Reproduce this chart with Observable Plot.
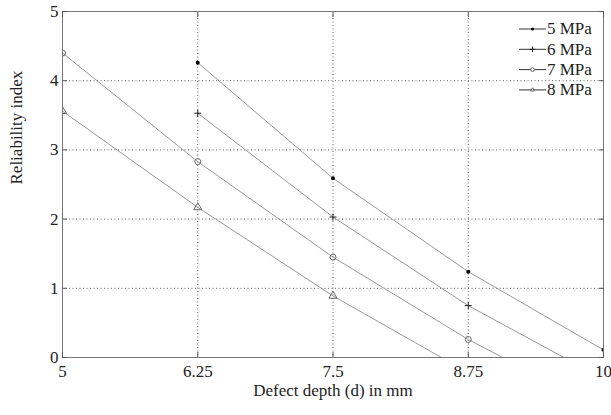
<!DOCTYPE html>
<html><head><meta charset="utf-8">
<script src="https://cdn.jsdelivr.net/npm/d3@7"></script>
<script src="https://cdn.jsdelivr.net/npm/@observablehq/plot@0.6"></script>
<style>
body{margin:0;background:#fff}
#c{position:relative;width:611px;height:415px;font-family:"Liberation Serif","Times New Roman","DejaVu Serif",serif}
#c svg text{font-family:"Liberation Serif","Times New Roman","DejaVu Serif",serif}
#legend{position:absolute;left:514px;top:18px}
</style>
</head><body><div id="c"></div>
<script>
// Defect depth (mm)
const depth = [5, 6.25, 7.5, 8.75, 10];
// Reliability index per internal pressure (null = not computed)
const mpa5 = [null, 4.26, 2.59, 1.24, 0.11];
const mpa6 = [null, 3.53, 2.03, 0.75, -0.31];
const mpa7 = [4.40, 2.83, 1.45, 0.26, -0.76];
const mpa8 = [3.56, 2.17, 0.89, -0.22, -1.28];
const seriesNames = ["5 MPa", "6 MPa", "7 MPa", "8 MPa"];
const xTicks = [5, 6.25, 7.5, 8.75, 10];
const yTicks = [0, 1, 2, 3, 4, 5];
const xGrid = [6.25, 7.5, 8.75];
const yGrid = [1, 2, 3, 4];
const xLabel = "Defect depth (d) in mm";
const yLabel = "Reliability index";

const values = [mpa5, mpa6, mpa7, mpa8];
const styles = [
  {symbol: "circle", fill: "#000", stroke: "none", r: 2},
  {symbol: "plus", fill: "none", stroke: "#222", r: 2.4},
  {symbol: "circle", fill: "none", stroke: "#666", r: 3},
  {symbol: "triangle", fill: "none", stroke: "#666", r: 3}
];
const table = [];
seriesNames.forEach((s, j) => depth.forEach((d, i) => {
  if (values[j][i] != null) table.push({d, r: values[j][i], s});
}));

const font = '"Liberation Serif","Times New Roman","DejaVu Serif",serif';
const chart = Plot.plot({
  width: 611, height: 415,
  marginLeft: 62, marginRight: 8, marginTop: 11, marginBottom: 58,
  x: {domain: [5, 10]},
  y: {domain: [0, 5]},
  style: {fontFamily: font, fontSize: "17px", background: "#fff", color: "#222"},
  marks: [
    Plot.ruleX(xGrid, {stroke: "#333", strokeDasharray: "1,2.5", strokeWidth: 0.8}),
    Plot.ruleY(yGrid, {stroke: "#333", strokeDasharray: "1,2.5", strokeWidth: 0.8}),
    Plot.line(table, {x: "d", y: "r", z: "s", stroke: "#999", strokeWidth: 1, clip: true}),
    ...seriesNames.map((s, j) => Plot.dot(table.filter(t => t.s === s), {
      x: "d", y: "r", symbol: () => styles[j].symbol, r: styles[j].r,
      fill: styles[j].fill, stroke: styles[j].stroke, strokeWidth: 1, clip: true
    })),
    Plot.frame({stroke: "#777"}),
    Plot.axisX({ticks: xTicks, anchor: "bottom", tickSize: -5, tickPadding: 12, tickFormat: d => String(d), label: null, stroke: "#555"}),
    Plot.axisX({ticks: xTicks, anchor: "top", tickSize: -5, tickFormat: () => "", label: null, stroke: "#555"}),
    Plot.axisY({ticks: yTicks, anchor: "left", tickSize: -5, tickPadding: 9, tickFormat: d => String(d), label: null, stroke: "#555"}),
    Plot.axisY({ticks: yTicks, anchor: "right", tickSize: -5, tickFormat: () => "", label: null, stroke: "#555"}),
    Plot.text([xLabel], {frameAnchor: "bottom", dy: 38, fontSize: 17, fill: "#222"}),
    Plot.text([yLabel], {frameAnchor: "left", dx: -46, rotate: -90, fontSize: 17, fill: "#222"})
  ]
});
const c = document.getElementById("c");
c.appendChild(chart);

// Legend
const lw = 90, lh = 82;
const svg = d3.create("svg").attr("id", "legend").attr("width", lw).attr("height", lh)
  .style("font-family", font).style("font-size", "17px");
const symMap = {circle: d3.symbolCircle, plus: d3.symbolPlus, triangle: d3.symbolTriangle2};
const legendScale = [0.75, 0.8, 0.6, 0.6];
seriesNames.forEach((s, j) => {
  const y = 11 + j * 20.3;
  const g = svg.append("g").attr("transform", `translate(0,${y})`);
  g.append("line").attr("x1", 5).attr("x2", 32).attr("stroke", "#333").attr("stroke-width", 1);
  const st = styles[j];
  const rr = st.r * legendScale[j];
  g.append("path").attr("transform", "translate(18.5,0)")
    .attr("d", d3.symbol(symMap[st.symbol], Math.PI * rr * rr)())
    .attr("fill", st.fill === "none" ? "#fff" : st.fill).attr("stroke", st.stroke === "none" ? null : st.stroke);
  g.append("text").attr("x", 33).attr("dy", "0.32em").attr("fill", "#222").text(s);
});
c.appendChild(svg.node());
</script>
</body></html>
